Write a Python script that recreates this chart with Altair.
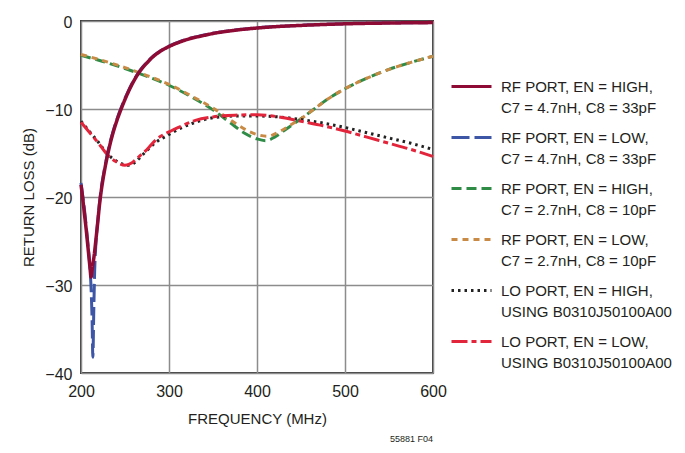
import altair as alt
import pandas as pd

# ---- data ----
names = [
    "RF PORT, EN = HIGH,|C7 = 4.7nH, C8 = 33pF",
    "RF PORT, EN = LOW,|C7 = 4.7nH, C8 = 33pF",
    "RF PORT, EN = HIGH,|C7 = 2.7nH, C8 = 10pF",
    "RF PORT, EN = LOW,|C7 = 2.7nH, C8 = 10pF",
    "LO PORT, EN = HIGH,|USING B0310J50100A00",
    "LO PORT, EN = LOW,|USING B0310J50100A00",
]
colors = ["#8E0B35", "#3D56A6", "#2F8C47", "#C98A45", "#222222", "#E3253C"]
dashes = [[1, 0], [18, 5], [10, 5], [6, 5], [2.5, 4], [16, 4, 5, 4]]
widths = [3.5, 3, 3, 3, 3, 3]

f_rf47_hi = [200, 202, 204, 206, 208, 210, 211.5, 213, 215, 217, 219, 221, 223, 226, 229, 233, 237, 241, 246,
             252, 259, 267, 275, 282, 290, 300, 312, 324, 337, 350, 375, 400, 425, 450, 500, 550, 600]
v_rf47_hi = [-18.6, -20.2, -22.0, -23.8, -25.8, -27.8, -29.1, -28.0, -26.6, -24.8, -22.9, -20.9, -19.3, -17.4,
             -15.8, -14.0, -12.5, -11.25, -9.9, -8.45, -7.0, -5.7, -4.75, -4.05, -3.45, -2.9, -2.4, -2.0, -1.7,
             -1.42, -1.05, -0.8, -0.62, -0.5, -0.32, -0.23, -0.18]

f_rf47_lo = [200, 202, 204, 206, 208, 210, 211.5, 212.5, 213.5, 214.5, 215.5, 217, 219, 221, 223, 226, 229, 233,
             237, 241, 246, 252, 259, 267, 275, 282, 290, 300, 312, 324, 337, 350, 375, 400, 425, 450, 500, 550, 600]
v_rf47_lo = [-18.4, -19.9, -21.5, -23.4, -25.5, -27.8, -30.5, -33.5, -38.2, -33.0, -28.5, -25.2, -22.8, -20.7,
             -19.0, -17.2, -15.6, -13.8, -12.35, -11.1, -9.75, -8.35, -6.9, -5.6, -4.68, -4.0, -3.42, -2.85,
             -2.35, -1.95, -1.65, -1.38, -1.02, -0.78, -0.6, -0.48, -0.3, -0.22, -0.18]

f_rf27_hi = [200, 225, 250, 275, 300, 325, 350, 370, 385, 400, 410, 420, 430, 440, 450, 465, 480, 500, 525,
             550, 575, 600]
v_rf27_hi = [-3.9, -4.6, -5.4, -6.3, -7.3, -8.6, -10.1, -11.6, -12.7, -13.4, -13.6, -13.2, -12.5, -11.8,
             -11.1, -10.0, -8.9, -7.7, -6.5, -5.5, -4.7, -4.0]

f_rf27_lo = [200, 225, 250, 275, 300, 325, 350, 375, 390, 400, 412, 425, 440, 450, 465, 480, 500, 525, 550,
             575, 600]
v_rf27_lo = [-3.8, -4.5, -5.3, -6.2, -7.2, -8.5, -9.9, -11.6, -12.5, -12.9, -13.1, -12.6, -11.7, -11.1,
             -10.0, -8.9, -7.7, -6.5, -5.5, -4.7, -4.0]

f_lo_hi = [200, 210, 220, 230, 240, 250, 255, 262, 270, 285, 300, 315, 330, 350, 375, 400, 425, 450, 475,
           500, 525, 550, 575, 600]
v_lo_hi = [-11.4, -12.6, -13.8, -15.1, -15.9, -16.35, -16.4, -16.0, -15.2, -13.8, -12.9, -12.1, -11.5, -11.0,
           -10.8, -10.8, -10.9, -11.2, -11.6, -12.1, -12.7, -13.3, -13.9, -14.6]

f_lo_lo = [200, 210, 220, 230, 240, 250, 258, 266, 275, 285, 300, 315, 330, 350, 375, 400, 425, 450, 475,
           500, 525, 550, 575, 600]
v_lo_lo = [-11.5, -12.7, -13.9, -15.2, -16.0, -16.4, -16.1, -15.4, -14.6, -13.5, -12.6, -11.9, -11.3, -10.9,
           -10.7, -10.65, -10.9, -11.4, -11.9, -12.5, -13.2, -13.9, -14.6, -15.4]

x_ticks = [200, 300, 400, 500, 600]
y_ticks = [-40, -30, -20, -10, 0]

series_f = [f_rf47_hi, f_rf47_lo, f_rf27_hi, f_rf27_lo, f_lo_hi, f_lo_lo]
series_v = [v_rf47_hi, v_rf47_lo, v_rf27_hi, v_rf27_lo, v_lo_hi, v_lo_lo]

rows = []
for n, fs, vs in zip(names, series_f, series_v):
    for f, v in zip(fs, vs):
        rows.append({"series": n, "freq": f, "rl": v})
df = pd.DataFrame(rows)

FONT = "Liberation Sans, Arial, Helvetica, sans-serif"
TXT = "#231F20"

base = alt.Chart(df)

x_enc = alt.X("freq:Q", scale=alt.Scale(domain=[200, 600], nice=False),
              axis=alt.Axis(values=x_ticks, title="FREQUENCY (MHz)", labelPadding=10,
                            labelFlush=False, titlePadding=12))
y_enc = alt.Y("rl:Q", scale=alt.Scale(domain=[-40, 0], nice=False),
              axis=alt.Axis(values=y_ticks, title="RETURN LOSS (dB)", labelPadding=9,
                            labelFlush=False, titlePadding=8, labelOffset=1,
                            labelExpr="datum.value < 0 ? '\u2212' + abs(datum.value) : '0'"))

legend_kw = dict(title=None, orient="none", legendX=369, legendY=44,
                 labelExpr="split(datum.label, '|')",
                 symbolType="stroke", symbolSize=1600,
                 symbolStrokeWidth=3, labelOffset=8,
                 labelFontSize=15,
                 labelLimit=400, labelFont=FONT, labelColor=TXT,
                 rowPadding=-10.6, padding=0, labelBaseline="middle")

color_enc = alt.Color("series:N", scale=alt.Scale(domain=names, range=colors),
                      legend=alt.Legend(**legend_kw))
dash_enc = alt.StrokeDash("series:N", scale=alt.Scale(domain=names, range=dashes),
                          legend=alt.Legend(**legend_kw))

draw_order = [2, 3, 4, 5, 1, 0]
layers = []
for i in draw_order:
    layers.append(
        base.transform_filter(alt.datum.series == names[i])
        .mark_line(strokeWidth=widths[i], interpolate="monotone")
        .encode(x=x_enc, y=y_enc, color=color_enc, strokeDash=dash_enc)
    )

chart = (
    alt.layer(*layers)
    .properties(
        width=352, height=352,
        autosize=alt.AutoSizeParams(type="none"),
        padding={"left": 73, "top": 13, "right": 244, "bottom": 72},
        title=alt.TitleParams("55881 F04", orient="bottom", anchor="end", fontSize=9,
                              font=FONT, color=TXT, fontWeight="normal", offset=9,
                              frame="group"),
    )
    .configure(style={"guide-label": {"lineHeight": 21}})
    .configure_view(stroke="#3A3A3A", strokeWidth=2)
    .configure_axis(
        grid=True, gridColor="#8C8C8C", gridWidth=1.5, domain=False, ticks=False,
        labelFont=FONT, labelFontSize=16, labelColor=TXT,
        titleFont=FONT, titleFontSize=15, titleColor=TXT, titleFontWeight="normal",
    )
)

chart.save("out.html", embed_options={"renderer": "svg", "actions": False})
